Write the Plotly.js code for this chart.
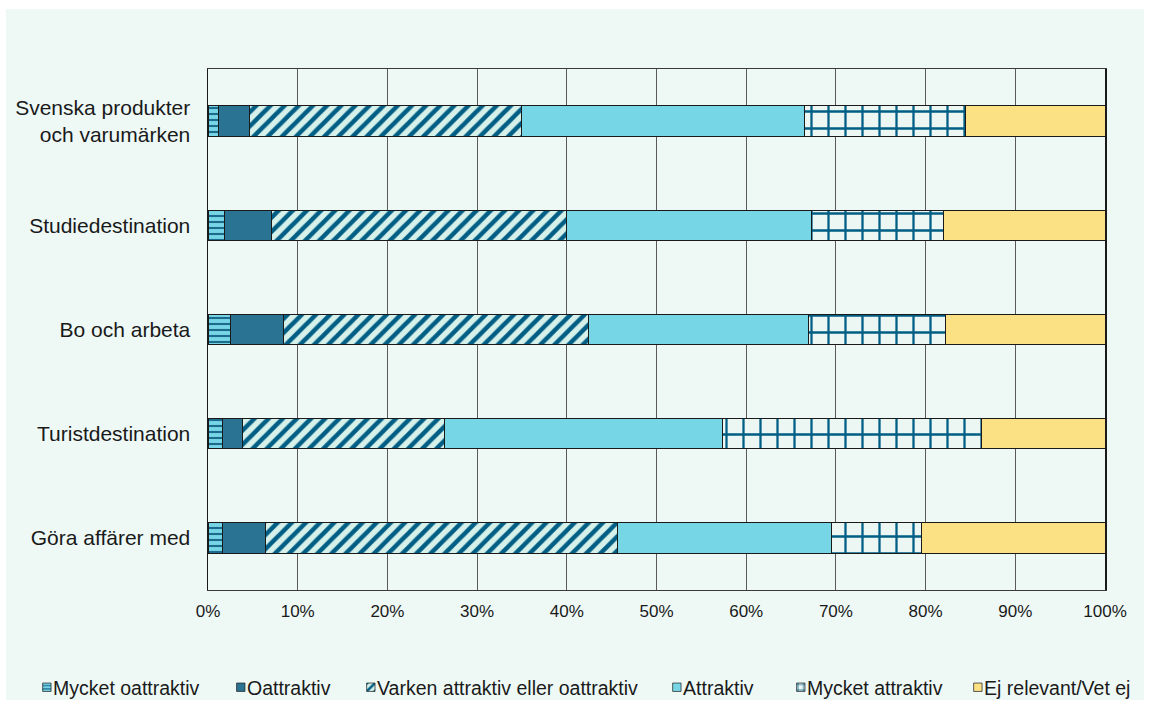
<!DOCTYPE html>
<html>
<head>
<meta charset="utf-8">
<script src="https://cdn.plot.ly/plotly-3.0.1.min.js"></script>
<style>
  html, body { margin: 0; padding: 0; background: #ffffff; }
  #chart { position: absolute; left: 6px; top: 9px; width: 1138px; height: 691px; }
</style>
</head>
<body>
<div id="chart"></div>
<script>
// Kategorier (uppifrån och ned)
const categories = [
  "Svenska produkter<br>och varumärken",
  "Studiedestination",
  "Bo och arbeta",
  "Turistdestination",
  "Göra affärer med"
];

// Andel svarande per svarsalternativ (procent)
const myckeOattraktiv = [1.2, 1.8, 2.5, 1.6, 1.6];
const oattraktiv      = [3.4, 5.3, 5.9, 2.3, 4.8];
const varken          = [30.4, 32.9, 34.0, 22.5, 39.2];
const attraktiv       = [31.5, 27.3, 24.5, 31.0, 23.9];
const myckeAttraktiv  = [17.9, 14.7, 15.3, 28.8, 10.0];
const ejRelevant      = [15.6, 18.0, 17.8, 13.8, 20.5];

const seriesNames = [
  "Mycket oattraktiv",
  "Oattraktiv",
  "Varken attraktiv eller oattraktiv",
  "Attraktiv",
  "Mycket attraktiv",
  "Ej relevant/Vet ej"
];
const seriesValues = [myckeOattraktiv, oattraktiv, varken, attraktiv, myckeAttraktiv, ejRelevant];

const darkBlue = "#005e85";
const styles = [
  { color: "#76d5e6", pattern: { shape: "-", bgcolor: "#76d5e6", fgcolor: "#1c6a8c", size: 6, solidity: 0.35 } },
  { color: "#2a7393" },
  { color: "#d6f0ea", pattern: { shape: "/", bgcolor: "#d6f0ea", fgcolor: darkBlue, size: 10, solidity: 0.45 } },
  { color: "#76d6e6" },
  { color: "#ecf6f3", pattern: { shape: "+", bgcolor: "#ecf6f3", fgcolor: darkBlue, size: 17, solidity: 0.25 } },
  { color: "#fce084" }
];

// One legend per series so each entry can sit at its own horizontal spot
const legendIds = ["legend", "legend2", "legend3", "legend4", "legend5", "legend6"];
const legendX = [0.0062, 0.1766, 0.2909, 0.5598, 0.6687, 0.8243];

const traces = seriesNames.map((name, i) => ({
  type: "bar",
  orientation: "h",
  name: name,
  y: categories,
  x: seriesValues[i].map(v => v / 100),
  legend: legendIds[i],
  marker: Object.assign({ line: { color: "#1a1a1a", width: 1 } }, styles[i]),
  hovertemplate: "%{y}: %{x:.1%}<extra>" + name + "</extra>"
}));

const fontFamily = "Liberation Sans, Arial, sans-serif";

const layout = {
  barmode: "stack",
  bargap: 0.71,
  paper_bgcolor: "#eef9f6",
  plot_bgcolor: "#eef9f6",
  margin: { l: 202, r: 39, t: 60, b: 110 },
  font: { family: fontFamily, color: "#1a1a1a" },
  xaxis: {
    range: [0, 1],
    dtick: 0.1,
    tickformat: ".0%",
    showgrid: true,
    gridcolor: "#5a5a5a",
    gridwidth: 1,
    zeroline: false,
    showline: true,
    linecolor: "#3a3a3a",
    linewidth: 1,
    mirror: true,
    ticks: "",
    ticklabelstandoff: 6,
    tickfont: { size: 17, family: fontFamily, color: "#1a1a1a" },
    fixedrange: true
  },
  yaxis: {
    type: "category",
    autorange: "reversed",
    showgrid: false,
    zeroline: false,
    showline: true,
    linecolor: "#1a1a1a",
    linewidth: 1.5,
    mirror: true,
    ticks: "",
    ticklabelstandoff: 12,
    tickfont: { size: 21, family: fontFamily, color: "#1a1a1a" },
    fixedrange: true
  },
  showlegend: true
};

legendIds.forEach((id, i) => {
  layout[id] = {
    orientation: "h",
    xref: "container",
    yref: "container",
    x: legendX[i],
    xanchor: "left",
    y: 0.018,
    yanchor: "middle",
    bgcolor: "rgba(0,0,0,0)",
    font: { size: 19.5, family: fontFamily, color: "#1a1a1a" }
  };
});

// Smaller legend swatches placed right next to their labels
function tightenLegendSymbols(gd) {
  const scale = 0.7;
  gd.querySelectorAll("g.traces").forEach(item => {
    const text = item.querySelector("text");
    const paths = item.querySelectorAll("path");
    if (!text || !paths.length) return;
    const textLeft = text.getBoundingClientRect().left;
    paths.forEach(p => {
      if (!p.hasAttribute("data-orig-transform")) {
        p.setAttribute("data-orig-transform", p.getAttribute("transform") || "");
      }
      const base = p.getAttribute("data-orig-transform");
      p.setAttribute("transform", base);
      const r = p.getBoundingClientRect();
      if (!r.width) return;
      const bb = p.getBBox();
      const lcx = bb.x + bb.width / 2, lcy = bb.y + bb.height / 2;
      const target = textLeft - 2 - (r.width * scale) / 2;
      const dx = target - (r.left + r.width / 2);
      p.setAttribute("transform",
        base + " translate(" + dx + ",0) translate(" + lcx + "," + lcy + ") scale(" + scale + ") translate(" + (-lcx) + "," + (-lcy) + ")");
    });
  });
}

Plotly.newPlot("chart", traces, layout, { displayModeBar: false, staticPlot: true })
  .then(gd => {
    tightenLegendSymbols(gd);
    setTimeout(() => tightenLegendSymbols(gd), 50);
  });
</script>
</body>
</html>
